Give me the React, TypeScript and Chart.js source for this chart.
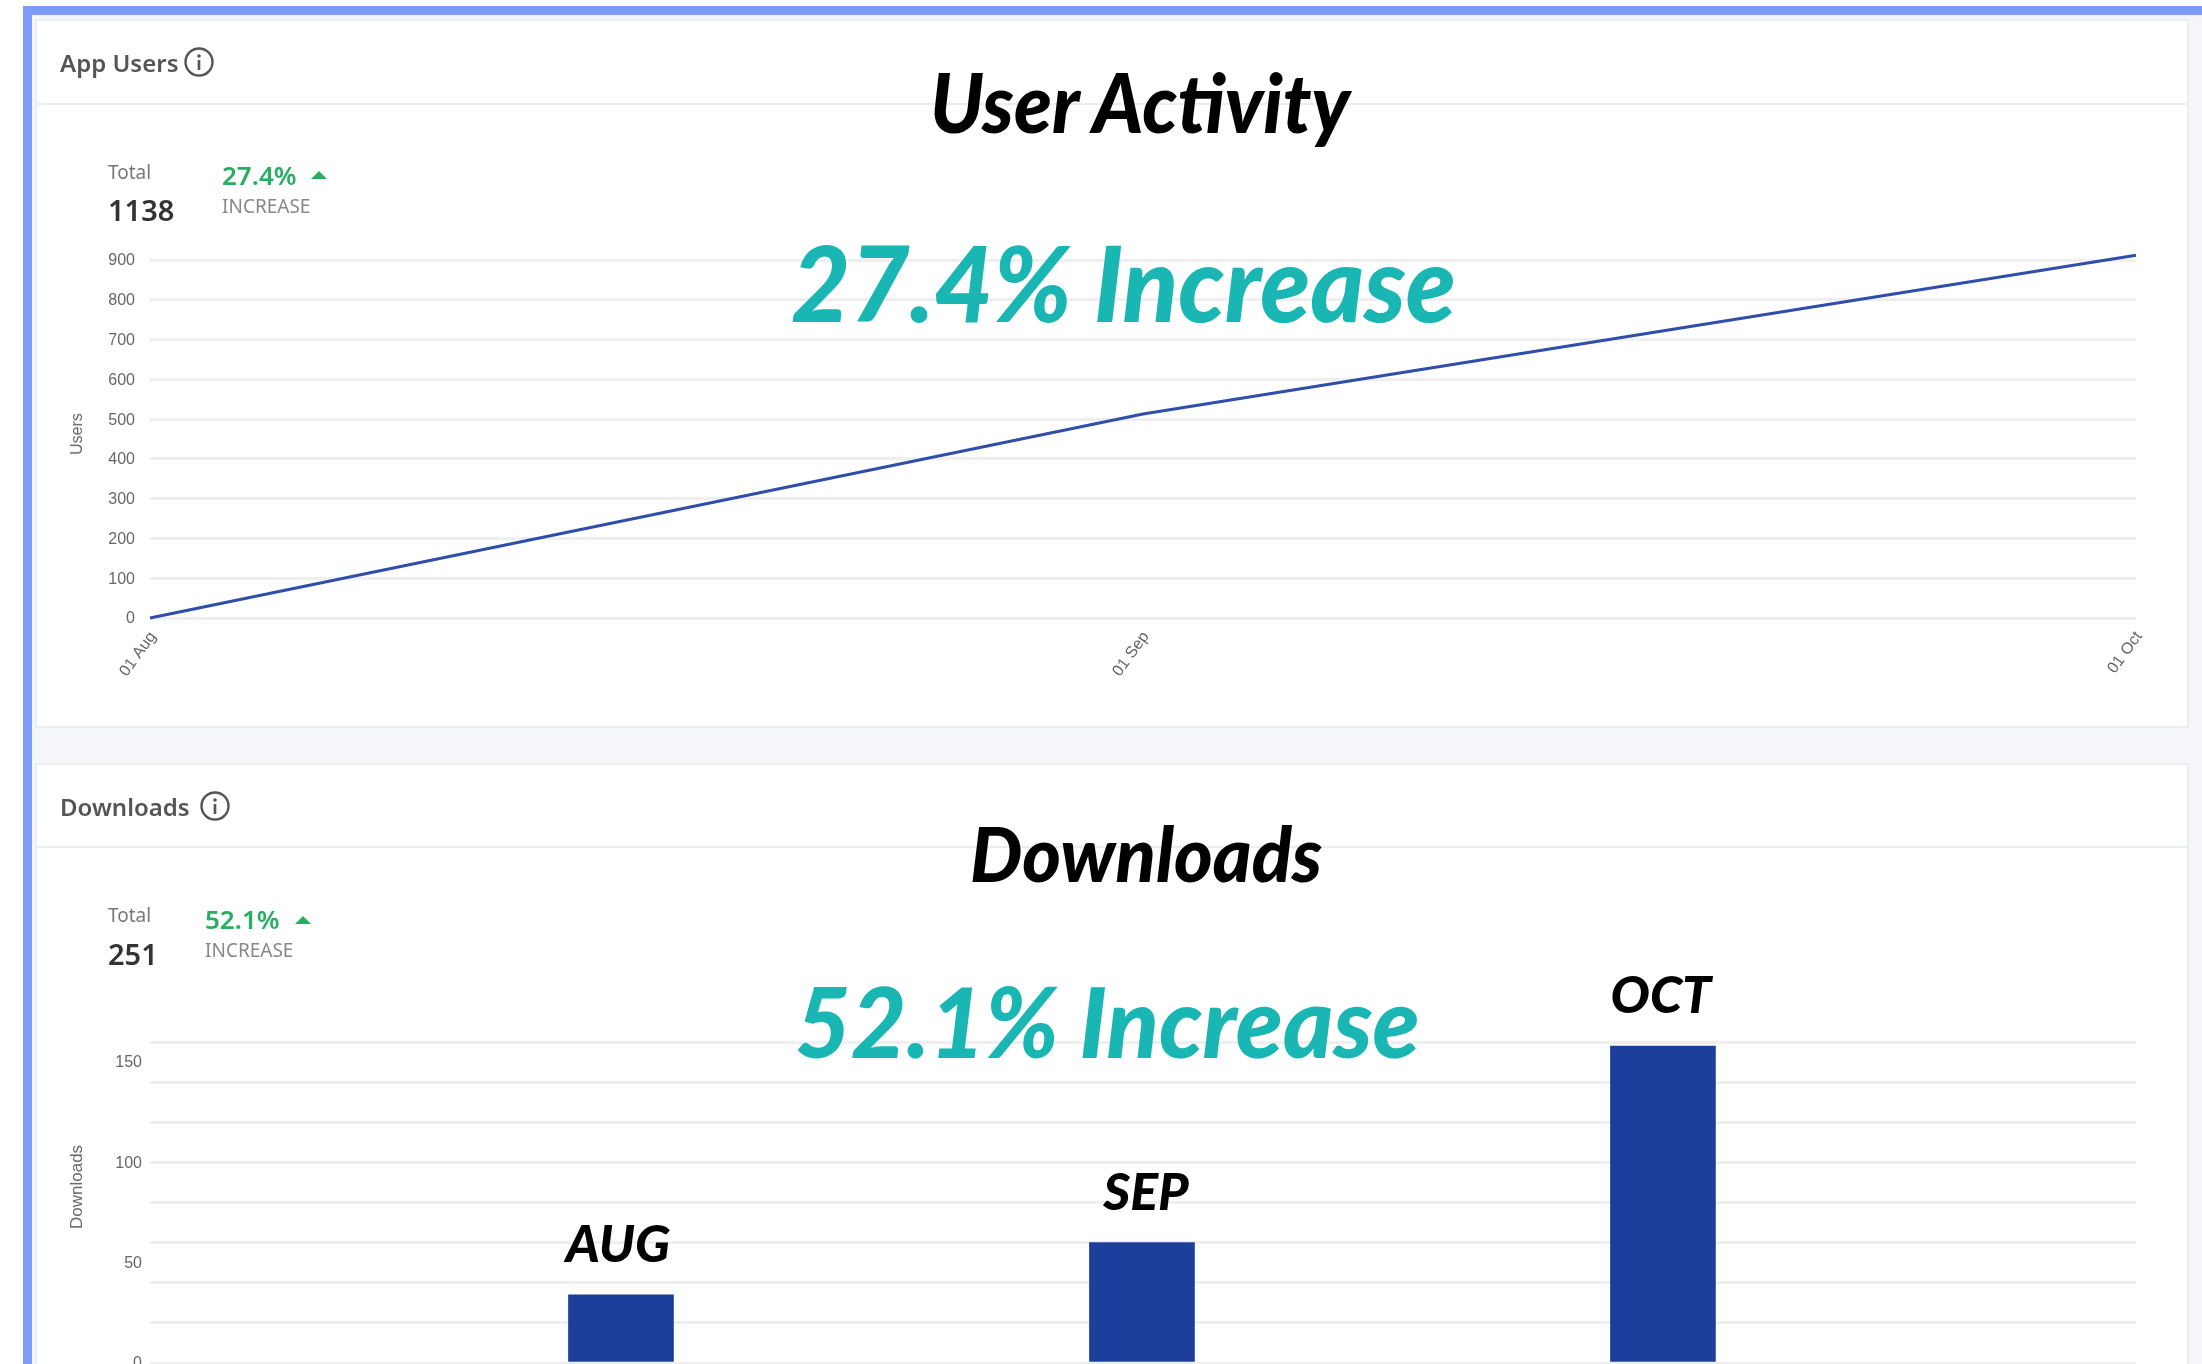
import React, { useEffect, useRef } from "react";
import { Chart, registerables } from "chart.js";
Chart.register(...registerables);

const userDates = ["01 Aug", "01 Sep", "01 Oct"];
const userValues = [0, 513, 912];
const downloadMonths = ["AUG", "SEP", "OCT"];
const downloadPositions = [1, 2, 3];
const downloadValues = [34, 60, 158];

const tickFont = { family: "'Liberation Sans'", size: 16 };
const overlayFont = "'Lato'";
const soft = "blur(0.6px)";

const monthLabels = {
  id: "monthLabels",
  afterDatasetsDraw(chart: any) {
    const ctx = chart.ctx;
    const meta = chart.getDatasetMeta(0);
    const nudge = [-3, 4, -2];
    ctx.save();
    ctx.fillStyle = "#000";
    ctx.font = `italic 900 52px ${overlayFont}`;
    ctx.textAlign = "center";
    ctx.textBaseline = "alphabetic";
    meta.data.forEach((el: any, i: number) => {
      ctx.fillText(downloadMonths[i], el.x + nudge[i], el.y - 33);
    });
    ctx.restore();
  },
};

function Info({ x, y }: { x: number; y: number }) {
  return (
    <svg style={{ position: "absolute", left: x - 16, top: y - 16, filter: soft }} width={32} height={32}>
      <circle cx={16} cy={16} r={13.5} fill="none" stroke="#555" strokeWidth={2.4} />
      <circle cx={16} cy={10} r={1.8} fill="#555" />
      <rect x={14.7} y={14} width={2.6} height={10} fill="#555" />
    </svg>
  );
}

function T(p: { x: number; y: number; s: number; c: string; w?: number; t: string }) {
  return (
    <div
      style={{
        position: "absolute",
        left: p.x,
        top: p.y,
        transform: "translateY(-50%)",
        fontSize: p.s,
        color: p.c,
        fontWeight: p.w ?? 400,
        fontFamily: "'Noto Sans'",
        whiteSpace: "nowrap",
        lineHeight: 1,
        filter: soft,
      }}
    >
      {p.t}
    </div>
  );
}

function Big(p: { x: number; base: number; s: number; c: string; t: string; sx?: number }) {
  return (
    <div
      style={{
        position: "absolute",
        left: p.x,
        top: p.base - p.s,
        height: p.s,
        fontSize: p.s,
        color: p.c,
        fontWeight: 900,
        fontStyle: "italic",
        fontFamily: overlayFont,
        whiteSpace: "nowrap",
        lineHeight: `${p.s * 2 - 2 * p.s * 0.2}px`,
        transform: `scaleX(${p.sx ?? 1})`,
        transformOrigin: "left",
      }}
    >
      {p.t}
    </div>
  );
}

function AxisName({ x, y, s, t }: { x: number; y: number; s: number; t: string }) {
  return (
    <div
      style={{
        position: "absolute",
        left: x,
        top: y,
        transform: "translate(-50%,-50%) rotate(-90deg)",
        fontFamily: "'Liberation Sans'",
        fontSize: s,
        color: "#666",
        whiteSpace: "nowrap",
        filter: soft,
      }}
    >
      {t}
    </div>
  );
}

function Tri({ x, y }: { x: number; y: number }) {
  return (
    <svg style={{ position: "absolute", left: x, top: y }} width={16} height={8}>
      <polygon points="8,0 16,8 0,8" fill="#27ae60" />
    </svg>
  );
}

export default function App() {
  const a = useRef<HTMLCanvasElement>(null);
  const b = useRef<HTMLCanvasElement>(null);
  useEffect(() => {
    const c1 = new Chart(a.current!, {
      type: "line",
      data: {
        labels: userDates,
        datasets: [
          {
            data: userValues,
            borderColor: "#2f4dab",
            borderWidth: 3,
            pointRadius: 0,
            tension: 0,
            fill: false,
            clip: false,
          },
        ],
      },
      options: {
        animation: false,
        responsive: false,
        layout: { autoPadding: false, padding: { top: 12, right: 14, bottom: 0, left: 0 } },
        plugins: { legend: { display: false }, tooltip: { enabled: false } },
        scales: {
          x: {
            offset: false,
            grid: { display: false },
            border: { display: false },
            ticks: { font: tickFont, color: "#666", minRotation: 54, maxRotation: 54, padding: 2, labelOffset: 3 },
            afterFit: (s: any) => { s.paddingLeft = 0; s.paddingRight = 0; s.height = 90; },
          },
          y: {
            min: 0,
            max: 900,
            grid: { color: "#efefef", lineWidth: 3, drawTicks: false },
            border: { display: false },
            ticks: { stepSize: 100, font: tickFont, color: "#666", padding: 15, labelOffset: 1 },
            afterFit: (s: any) => { s.width = 90; s.paddingTop = 0; s.paddingBottom = 0; },
          },
        },
      },
    } as any);
    const c2 = new Chart(b.current!, {
      type: "bar",
      plugins: [monthLabels],
      data: {
        datasets: [
          {
            data: downloadPositions.map((x, i) => ({ x, y: downloadValues[i] })),
            backgroundColor: "#1c3f9c",
            barThickness: 105,
          },
        ],
      },
      options: {
        animation: false,
        responsive: false,
        layout: { autoPadding: false, padding: { top: 92, right: 14, bottom: 1, left: 0 } },
        plugins: { legend: { display: false }, tooltip: { enabled: false } },
        scales: {
          x: {
            type: "linear",
            min: 0.096,
            max: 3.908,
            offset: false,
            grid: { display: false },
            border: { display: false },
            ticks: { display: false },
            afterFit: (s: any) => { s.height = 0; s.paddingLeft = 0; s.paddingRight = 0; },
          },
          y: {
            min: 0,
            max: 160,
            grid: {
              color: (c: any) => (c.tick && c.tick.value % 20 === 0 ? "#efefef" : "rgba(0,0,0,0)"),
              lineWidth: 3,
              drawTicks: false,
            },
            border: { display: false },
            ticks: {
              stepSize: 10,
              autoSkip: false,
              font: tickFont,
              color: "#666",
              padding: 8,
              labelOffset: 1,
              callback: (v: any) => (Number(v) % 50 === 0 ? String(v) : ""),
            },
            afterFit: (s: any) => { s.width = 90; s.paddingTop = 0; s.paddingBottom = 0; },
          },
        },
      },
    } as any);
    return () => {
      c1.destroy();
      c2.destroy();
    };
  }, []);

  const card = (top: number, height: number): React.CSSProperties => ({
    position: "absolute",
    left: 37,
    top,
    width: 2150,
    height,
    background: "#fff",
    boxShadow: "0 0 0 2px #ebedf0",
  });

  return (
    <div style={{ position: "fixed", left: 0, top: 0, width: 2202, height: 1364, background: "#fff", overflow: "hidden" }}>
      <div style={{ position: "absolute", left: 23, top: 6, width: 2179, height: 1358, background: "#f4f6fa", boxSizing: "border-box", borderLeft: "9px solid #7f9bfa", borderTop: "9px solid #7f9bfa" }} />
      <div style={card(21, 705)} />
      <div style={card(765, 620)} />
      <div style={{ position: "absolute", left: 37, top: 103, width: 2150, height: 2, background: "#ebedf0" }} />
      <div style={{ position: "absolute", left: 37, top: 846, width: 2150, height: 2, background: "#ebedf0" }} />

      <canvas ref={a} width={2090} height={460} style={{ position: "absolute", left: 60, top: 248, width: 2090, height: 460, filter: soft }} />
      <canvas ref={b} width={2090} height={414} style={{ position: "absolute", left: 60, top: 950, width: 2090, height: 414, filter: soft }} />

      <AxisName x={77} y={434} s={16} t="Users" />
      <AxisName x={77} y={1187} s={17} t="Downloads" />

      <T x={60} y={63} s={24} w={600} c="#555" t="App Users" />
      <Info x={199} y={62} />
      <T x={108} y={172} s={19} c="#777" t="Total" />
      <T x={108} y={209} s={29} w={600} c="#333" t="1138" />
      <T x={222} y={175} s={26} w={600} c="#27ae60" t="27.4%" />
      <Tri x={311} y={171} />
      <T x={222} y={206} s={19} c="#888" t="INCREASE" />

      <T x={60} y={807} s={24} w={600} c="#555" t="Downloads" />
      <Info x={215} y={806} />
      <T x={108} y={915} s={19} c="#777" t="Total" />
      <T x={108} y={953} s={29} w={600} c="#333" t="251" />
      <T x={205} y={919} s={26} w={600} c="#27ae60" t="52.1%" />
      <Tri x={295} y={916} />
      <T x={205} y={950} s={19} c="#888" t="INCREASE" />

      <Big x={930} base={118} s={82} sx={0.945} c="#000" t="User Activity" />
      <Big x={791} base={303} s={104} sx={0.983} c="#19b6b3" t="27.4% Increase" />
      <Big x={970} base={868} s={76} sx={0.973} c="#000" t="Downloads" />
      <Big x={795} base={1040} s={98} sx={0.98} c="#19b6b3" t="52.1% Increase" />
    </div>
  );
}
